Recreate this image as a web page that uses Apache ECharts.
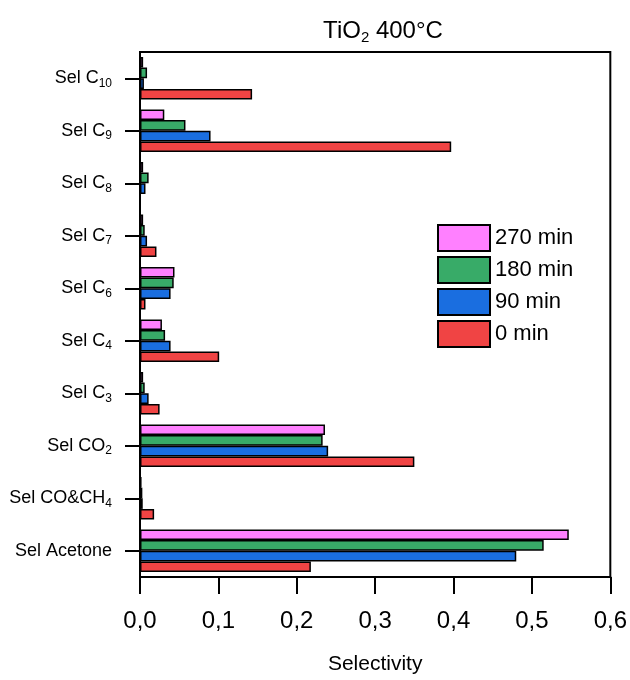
<!DOCTYPE html>
<html>
<head>
<meta charset="utf-8">
<script src="https://cdn.jsdelivr.net/npm/echarts@6/dist/echarts.min.js"></script>
<style>
html,body{margin:0;padding:0;background:#fff;}
#main{width:630px;height:680px;}
</style>
</head>
<body>
<div id="main"></div>
<script>
// categories bottom -> top
var categories = ['Sel Acetone', 'Sel CO&CH4', 'Sel CO2', 'Sel C3', 'Sel C4', 'Sel C6', 'Sel C7', 'Sel C8', 'Sel C9', 'Sel C10'];
// series drawn top -> bottom inside each category
var seriesNames = ['270 min', '180 min', '90 min', '0 min'];
var sel270 = [0.547, 0.002, 0.236, 0.004, 0.028, 0.044, 0.004, 0.004, 0.031, 0.004];
var sel180 = [0.515, 0.003, 0.233, 0.006, 0.032, 0.043, 0.006, 0.011, 0.058, 0.009];
var sel90 = [0.480, 0.0035, 0.240, 0.011, 0.039, 0.039, 0.009, 0.007, 0.090, 0.005];
var sel0 = [0.218, 0.018, 0.350, 0.025, 0.101, 0.007, 0.021, 0, 0.397, 0.143];
var colors = ['#ff80ff', '#38ab68', '#1a6ee0', '#f04444'];

var dom = document.getElementById("main");
var myChart = echarts.init(dom);
var option = null;
var font = 'Liberation Sans, Arial, sans-serif';
var allData = [sel270, sel180, sel90, sel0];

// subscript digits after a capital letter
function subs(txt){
    return txt.replace(/([A-Z])(\d+)/g, '$1{s|$2}');
}

var series = [];
for (var i = 0; i < seriesNames.length; i++) {
    series.push({
        name: seriesNames[i],
        type: 'bar',
        data: allData[i],
        barGap: '0%',
        barCategoryGap: '19%',
        itemStyle: {
            color: colors[i],
            borderColor: '#000',
            borderWidth: 1.5
        }
    });
}

option = {
    backgroundColor: '#fff',
    animation: false,
    textStyle: {fontFamily: font},
    title: {
        text: subs('TiO2 400°C'),
        left: 378,
        top: 12,
        textAlign: 'center',
        textStyle: {
            fontFamily: font,
            fontSize: 24,
            fontWeight: 'normal',
            color: '#000',
            lineHeight: 28,
            rich: {
                s: {fontSize: 15, fontFamily: font, verticalAlign: 'bottom', lineHeight: 13, color: '#000'}
            }
        }
    },
    legend: {
        orient: 'vertical',
        left: 437,
        top: 224,
        padding: 0,
        itemWidth: 52,
        itemHeight: 26,
        itemGap: 4,
        icon: 'rect',
        data: seriesNames,
        textStyle: {fontFamily: font, fontSize: 22, lineHeight: 26, color: '#000'}
    },
    grid: {
        left: 140,
        right: 18,
        top: 52,
        bottom: 98,
        show: true,
        borderColor: '#000',
        borderWidth: 2,
        containLabel: false
    },
    xAxis: {
        type: 'value',
        min: 0,
        max: 0.6,
        interval: 0.1,
        name: 'Selectivity',
        nameLocation: 'middle',
        nameGap: 77,
        nameTextStyle: {fontFamily: font, fontSize: 21, color: '#000'},
        axisLine: {show: true, lineStyle: {color: '#000', width: 2}},
        axisTick: {show: true, length: 17, lineStyle: {color: '#000', width: 2}},
        splitLine: {show: false},
        axisLabel: {
            margin: 32,
            fontFamily: font,
            fontSize: 24,
            color: '#000',
            formatter: function(v){ return v.toFixed(1).replace('.', ','); }
        }
    },
    yAxis: {
        type: 'category',
        data: categories,
        axisLine: {show: true, lineStyle: {color: '#000', width: 2}},
        axisTick: {show: true, alignWithLabel: true, length: 15, lineStyle: {color: '#000', width: 2}},
        splitLine: {show: false},
        axisLabel: {
            margin: 28,
            fontFamily: font,
            fontSize: 18,
            lineHeight: 22,
            color: '#000',
            formatter: function(v){ return subs(v); },
            rich: {
                s: {fontSize: 12, fontFamily: font, verticalAlign: 'bottom', lineHeight: 11, color: '#000'}
            }
        }
    },
    series: series
};

if (option && typeof option === "object") {
    myChart.setOption(option, true);
}
</script>
</body>
</html>
